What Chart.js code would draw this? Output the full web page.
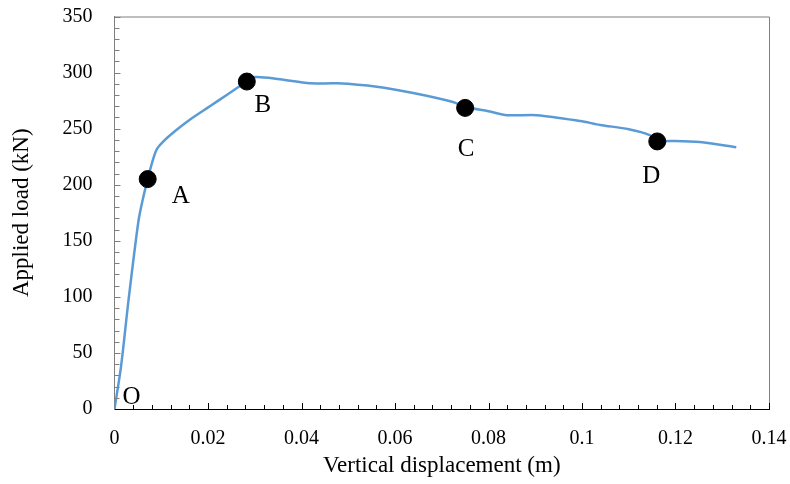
<!DOCTYPE html>
<html>
<head>
<meta charset="utf-8">
<script src="https://cdn.jsdelivr.net/npm/chart.js@4/dist/chart.umd.min.js"></script>
<style>
  html, body { margin: 0; padding: 0; background: #fff; }
  #wrap { width: 790px; height: 484px; position: relative; }
</style>
</head>
<body>
<div id="wrap"><canvas id="c" width="790" height="484"></canvas></div>
<script>
// ---- data ----
const curveX = [0, 0.0014, 0.0030, 0.0051, 0.0060, 0.0071, 0.0082, 0.0091, 0.0108, 0.0133, 0.0161, 0.0204, 0.0240, 0.0283, 0.0300, 0.0354, 0.0418, 0.0476, 0.0561, 0.0639, 0.0724, 0.0750, 0.0800, 0.0840, 0.0904, 0.0996, 0.1039, 0.1100, 0.1145, 0.1161, 0.1188, 0.1252, 0.1330];
const curveY = [0, 38, 97, 167, 186, 205, 222, 232, 240, 249, 258, 270, 280, 292, 296, 294, 290.4, 290.4, 287.4, 281.8, 273.8, 269.5, 265.5, 262, 262, 256.8, 253.3, 249.5, 244.3, 238.8, 239, 238, 233.4];
const markerX = [0.0071, 0.0283, 0.0750, 0.1161];
const markerY = [205, 292, 268.5, 238.6];
const markerLabels = ['A', 'B', 'C', 'D'];
const originLabel = 'O';
const xTitle = 'Vertical displacement (m)';
const yTitle = 'Applied load (kN)';
const xTickValues = [0, 0.02, 0.04, 0.06, 0.08, 0.1, 0.12, 0.14];
const xTickLabels = ['0', '0.02', '0.04', '0.06', '0.08', '0.1', '0.12', '0.14'];

const SERIF = '"Liberation Serif", "Times New Roman", serif';

const curveData = curveX.map((x, i) => ({ x: x, y: curveY[i] }));
const markerData = markerX.map((x, i) => ({ x: x, y: markerY[i] }));

// label offsets (pixels) relative to each marker
const labelOffsets = [[33, 17], [16, 24], [1, 42], [-6, 35]];

const decorPlugin = {
  id: 'decor',
  afterDraw(chart) {
    const ctx = chart.ctx;
    const xs = chart.scales.x, ys = chart.scales.y;
    const a = chart.chartArea;
    ctx.save();
    // top & right frame
    ctx.strokeStyle = '#7f7f7f';
    ctx.lineWidth = 1;
    ctx.beginPath();
    ctx.moveTo(a.left, a.top + 0.5);
    ctx.lineTo(a.right + 0.5, a.top + 0.5);
    ctx.lineTo(a.right + 0.5, a.bottom);
    ctx.stroke();
    // y inner ticks
    ctx.strokeStyle = '#7f7f7f';
    ctx.beginPath();
    for (let v = 10; v <= 350; v += 10) {
      const py = Math.round(ys.getPixelForValue(v)) + 0.5;
      const len = (v % 50 === 0) ? 6 : 5;
      ctx.moveTo(a.left, py);
      ctx.lineTo(a.left + len, py);
    }
    ctx.stroke();
    // x inner ticks
    ctx.strokeStyle = '#000';
    ctx.beginPath();
    for (let k = 1; k <= 35; k++) {
      const v = k * 0.004;
      const px = Math.round(xs.getPixelForValue(v)) + 0.5;
      const len = (k % 5 === 0) ? 6 : 4;
      ctx.moveTo(px, a.bottom);
      ctx.lineTo(px, a.bottom - len);
    }
    ctx.stroke();
    // point labels
    ctx.fillStyle = '#000';
    ctx.font = '25px ' + SERIF;
    ctx.textAlign = 'center';
    ctx.textBaseline = 'middle';
    markerLabels.forEach((t, i) => {
      const px = xs.getPixelForValue(markerX[i]) + labelOffsets[i][0];
      const py = ys.getPixelForValue(markerY[i]) + labelOffsets[i][1];
      ctx.fillText(t, px, py);
    });
    ctx.fillText(originLabel, xs.getPixelForValue(0) + 17, ys.getPixelForValue(0) - 12);
    ctx.restore();
  }
};

new Chart(document.getElementById('c'), {
  type: 'scatter',
  data: {
    datasets: [
      {
        data: curveData,
        showLine: true,
        borderColor: '#5B9BD5',
        borderWidth: 2.5,
        pointRadius: 0,
        tension: 0.3,
        order: 2
      },
      {
        data: markerData,
        showLine: false,
        pointRadius: 8.5,
        pointBackgroundColor: '#000',
        pointBorderColor: '#000',
        order: 1
      }
    ]
  },
  options: {
    responsive: false,
    animation: false,
    events: [],
    layout: { padding: { left: 0, right: 21, top: 16.5, bottom: 0 } },
    plugins: { legend: { display: false }, tooltip: { enabled: false } },
    scales: {
      x: {
        type: 'linear',
        min: 0, max: 0.14,
        afterBuildTicks(scale) { scale.ticks = xTickValues.map(v => ({ value: v })); },
        afterFit(scale) {
          scale.height = 75;
          scale.paddingLeft = 0; scale.paddingRight = 0;
        },
        grid: { display: false, drawTicks: false },
        border: { display: true, color: '#000', width: 1 },
        ticks: {
          padding: 18,
          color: '#000',
          font: { family: SERIF, size: 20 },
          maxRotation: 0,
          callback(v) { const i = xTickValues.indexOf(v); return i >= 0 ? xTickLabels[i] : ''; }
        },
        title: {
          display: true, text: xTitle, color: '#000',
          font: { family: SERIF, size: 23 },
          padding: { top: 0, bottom: 4 }
        }
      },
      y: {
        type: 'linear',
        min: 0, max: 350,
        afterFit(scale) {
          scale.width = 114.5;
          scale.paddingTop = 0; scale.paddingBottom = 0;
        },
        grid: { display: false, drawTicks: false },
        border: { display: true, color: '#7f7f7f', width: 1 },
        ticks: {
          stepSize: 50,
          padding: 22,
          color: '#000',
          font: { family: SERIF, size: 20 }
        },
        title: {
          display: true, text: yTitle, color: '#000',
          font: { family: SERIF, size: 23 },
          padding: { top: 8, bottom: 0 }
        }
      }
    }
  },
  plugins: [decorPlugin]
});
</script>
</body>
</html>
